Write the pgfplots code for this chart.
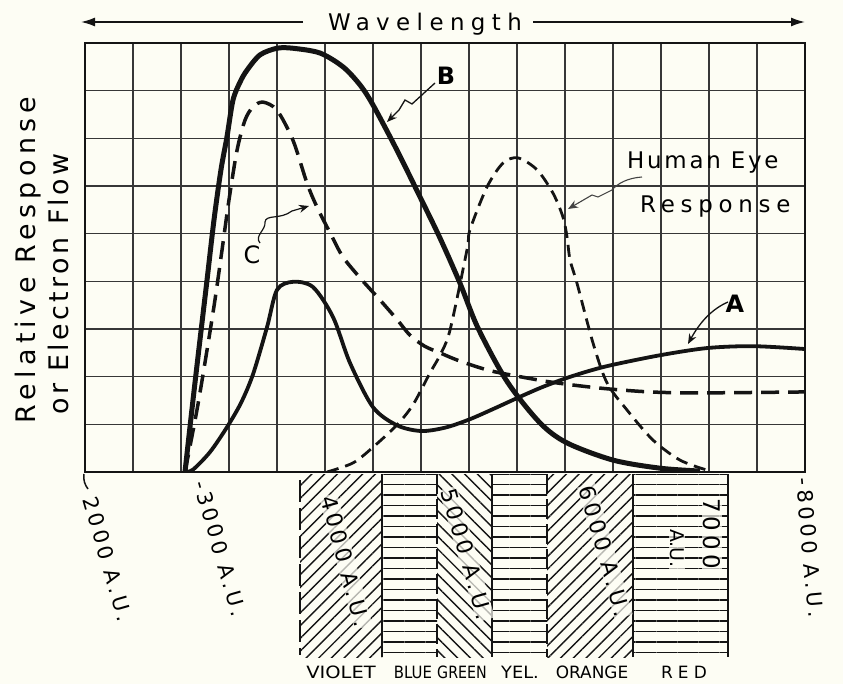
\documentclass[border=0pt]{standalone}
\usepackage{fontspec}
\setmainfont{DejaVu Sans}
\newfontfamily\wlfont[LetterSpace=28]{DejaVu Sans}
\newfontfamily\ylfontA[LetterSpace=20]{DejaVu Sans}
\newfontfamily\ylfontB[LetterSpace=13]{DejaVu Sans}
\newfontfamily\hefont[LetterSpace=12]{DejaVu Sans}
\newfontfamily\rsfont[LetterSpace=25]{DejaVu Sans}
\newfontfamily\tkfont[LetterSpace=18]{DejaVu Sans}
\newfontfamily\rdfont[LetterSpace=30]{DejaVu Sans}
\usepackage{pgfplots}
\pgfplotsset{compat=1.18}
\usetikzlibrary{arrows.meta,patterns.meta}
\definecolor{bg}{RGB}{253,253,244}
\definecolor{ink}{RGB}{20,20,20}

\begin{document}
\begin{tikzpicture}
\path[use as bounding box, fill=bg] (0,0) rectangle (843bp,-684bp);
\begin{axis}[
  at={(85bp,-472bp)}, anchor=south west,
  scale only axis, width=720bp, height=429bp,
  xmin=2000, xmax=8000, ymin=0, ymax=9,
  xtick={2000,2400,...,8000}, ytick={0,1,...,9},
  xticklabels={}, yticklabels={}, scaled x ticks=false, scaled y ticks=false,
  major tick length=0pt,
  grid=major, grid style={line width=1.4bp, draw=ink!85},
  axis line style={line width=1.7bp, draw=ink},
  axis background/.style={fill=bg},
]
% Curve B
\addplot[ink, line width=5bp, smooth, tension=0.5] coordinates {
(2833,0) (2900,1.51) (2958,2.77) (3017,4.03) (3075,5.29) (3133,6.34) (3183,7.03)
(3233,7.80) (3292,8.18) (3350,8.43) (3458,8.75) (3600,8.89) (3733,8.89) (3958,8.79)
(4150,8.50) (4292,8.12) (4400,7.70) (4600,6.75) (4792,5.77) (4958,4.91) (5125,3.96)
(5275,3.02) (5517,1.90) (5792,1.03) (6017,0.61) (6400,0.25) (6792,0.08) (7125,0.02)};
% Curve A
\addplot[ink, line width=3.8bp, smooth, tension=0.5] coordinates {
(2833,0) (2900,0.05) (3042,0.42) (3183,0.94) (3300,1.45) (3400,2.05) (3517,3.04)
(3600,3.82) (3733,3.99) (3900,3.88) (4067,3.25) (4208,2.29) (4400,1.36) (4600,0.98)
(4800,0.86) (5000,0.93) (5200,1.10) (5400,1.32) (5600,1.55) (5800,1.77) (6000,1.96)
(6200,2.12) (6400,2.25) (6792,2.45) (7183,2.60) (7567,2.64) (8000,2.58)};
% Curve C
\addplot[ink, line width=3.5bp, smooth, tension=0.5, dash pattern=on 18bp off 9bp] coordinates {
(2833,0) (2933,1.30) (3017,2.56) (3083,3.61) (3142,4.66) (3200,5.71) (3267,6.75)
(3333,7.38) (3400,7.66) (3483,7.76) (3600,7.59) (3733,6.96) (3850,6.06) (3933,5.56)
(4050,4.98) (4150,4.51) (4300,4.05) (4458,3.61) (4600,3.20) (4708,2.87) (4830,2.64)
(4958,2.50) (5100,2.35) (5300,2.18) (5458,2.08) (5875,1.89) (6292,1.76) (6708,1.68)
(7125,1.66) (8000,1.68)};
% Human eye response
\addplot[ink, line width=2.8bp, smooth, tension=0.5, dash pattern=on 12bp off 7bp] coordinates {
(4017,0) (4233,0.19) (4400,0.52) (4600,0.99) (4733,1.41) (4875,2.08) (4958,2.45)
(5042,2.98) (5183,4.66) (5208,5.08) (5350,5.98) (5483,6.48) (5608,6.59) (5767,6.34)
(5900,5.85) (5983,5.35) (6017,4.93) (6042,4.45) (6100,3.96) (6233,2.71) (6350,1.87)
(6517,1.30) (6733,0.67) (6958,0.25) (7183,0.04)};
\end{axis}

\begin{scope}[x=1bp,y=-1bp]
% Wavelength header
\node[anchor=base, inner sep=0] at (425,30) {\fontsize{23}{23}\wlfont Wavelength};
\draw[ink, line width=1.5bp, -{Latex[length=14bp,width=9bp]}] (303,22) -- (81,22);
\draw[ink, line width=1.5bp, -{Latex[length=14bp,width=9bp]}] (533,22) -- (805,22);
% y label
\node[rotate=90, anchor=base, inner sep=0] at (35,260) {\fontsize{27}{27}\ylfontA Relative Response};
\node[rotate=90, anchor=base, inner sep=0] at (68,284) {\fontsize{27}{27}\ylfontB or Electron Flow};
% curve labels
\node[inner sep=0] at (446,76) {\fontsize{24}{24}\bfseries B};
\node[inner sep=0] at (735,304) {\fontsize{24}{24}\bfseries A};
\node[inner sep=0] at (252,255) {\fontsize{24}{24}\selectfont C};
\node[anchor=base west, inner sep=0] at (627,168) {\fontsize{23}{23}\hefont Human Eye};
\node[anchor=base west, inner sep=0] at (640,212) {\fontsize{23}{23}\rsfont Response};
% pointer arrows
\draw[ink, line width=1.3bp, -{Stealth[length=10bp,width=8bp]}] (435,83) -- (412,104) -- (405,100) -- (399,110) -- (387,122);
\draw[ink, line width=1.2bp, -{Stealth[length=10bp,width=8bp]}] (260,243) .. controls (254,236) and (266,230) .. (265,222) .. controls (266,214) and (280,220) .. (292,211) -- (309,206);
\draw[ink!80, line width=1.1bp, -{Stealth[length=10bp,width=8bp]}] (642,177) .. controls (628,178) and (618,183) .. (612,190) -- (598,197) -- (592,195) -- (568,209);
\draw[ink, line width=1.3bp, -{Stealth[length=10bp,width=8bp]}] (728,302) .. controls (712,309) and (700,322) .. (688,344);
% small tick marks below axis
\draw[ink, line width=1.5bp] (84,474) .. controls (83,480) and (85,485) .. (88,489);
% tick labels
\node[rotate=-74, anchor=west, inner sep=0] at (90,497) {\fontsize{21}{21}\tkfont 2000 A.U.};
\node[rotate=-74, anchor=west, inner sep=0] at (201,481) {\fontsize{21}{21}\tkfont -3000 A.U.};
\node[rotate=-85, anchor=west, inner sep=0] at (804,478) {\fontsize{21}{21}\tkfont -8000 A.U.};
% spectrum strip
\fill[pattern={Lines[angle=45,distance=9bp,line width=1.4bp]}, pattern color=ink] (300,474) rectangle (382,657);
\fill[pattern={Lines[angle=0,distance=10.5bp,line width=1.6bp]}, pattern color=ink] (382,474) rectangle (437,657);
\fill[pattern={Lines[angle=-45,distance=9bp,line width=1.4bp]}, pattern color=ink] (437,474) rectangle (492,657);
\fill[pattern={Lines[angle=0,distance=10.5bp,line width=1.6bp]}, pattern color=ink] (492,474) rectangle (547,657);
\fill[pattern={Lines[angle=45,distance=9bp,line width=1.4bp]}, pattern color=ink] (547,474) rectangle (633,657);
\fill[pattern={Lines[angle=0,distance=10.5bp,line width=1.6bp]}, pattern color=ink] (633,474) rectangle (728,657);
\draw[ink, line width=2.5bp, dash pattern=on 22bp off 6bp] (300,480) -- (300,655);
\draw[ink, line width=2.5bp] (382,474) -- (382,657);
\draw[ink, line width=2.5bp, dash pattern=on 20bp off 5bp] (437,474) -- (437,657);
\draw[ink, line width=1.5bp] (492,474) -- (492,657);
\draw[ink, line width=2.5bp, dash pattern=on 20bp off 5bp] (547,474) -- (547,657);
\draw[ink, line width=2.5bp] (633,474) -- (633,657);
\draw[ink, line width=2.5bp] (728,474) -- (728,657);
% labels inside strip
\node[rotate=-75, anchor=west, inner sep=1bp, fill=bg, fill opacity=0.7, text opacity=1] at (328,495) {\fontsize{22}{22}\tkfont 4000 A.U.};
\node[rotate=-74, anchor=west, inner sep=1bp, fill=bg, fill opacity=0.7, text opacity=1] at (448,488) {\fontsize{22}{22}\tkfont 5000 A.U.};
\node[rotate=-74, anchor=west, inner sep=1bp, fill=bg, fill opacity=0.7, text opacity=1] at (586,485) {\fontsize{22}{22}\tkfont 6000 A.U.};
\node[rotate=-90, anchor=west, inner sep=1bp, fill=bg, fill opacity=0.7, text opacity=1] at (712,497) {\fontsize{23}{23}\tkfont 7000};
\node[rotate=-90, anchor=west, inner sep=1bp, fill=bg, fill opacity=0.7, text opacity=1] at (677,528) {\fontsize{19}{19}\selectfont A.U.};
% colour names
\node[anchor=base, inner sep=0, xscale=1.15] at (341,678) {\fontsize{17}{17}\selectfont VIOLET};
\node[anchor=base, inner sep=0, xscale=0.88] at (413,678) {\fontsize{17}{17}\selectfont BLUE};
\node[anchor=base, inner sep=0, xscale=0.84] at (462,678) {\fontsize{17}{17}\selectfont GREEN};
\node[anchor=base, inner sep=0, xscale=1.05] at (520,678) {\fontsize{17}{17}\selectfont YEL.};
\node[anchor=base, inner sep=0, xscale=1.0] at (592,678) {\fontsize{17}{17}\selectfont ORANGE};
\node[anchor=base, inner sep=0] at (684,678) {\fontsize{17}{17}\rdfont RED};
\end{scope}
\end{tikzpicture}
\end{document}
